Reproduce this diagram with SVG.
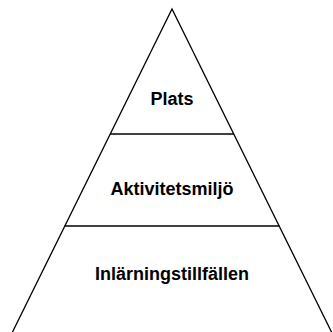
<svg xmlns="http://www.w3.org/2000/svg" width="333" height="332" viewBox="0 0 333 332">
<style>
.edge{fill:none;stroke:#000;stroke-width:1.3}
.lbl{font-family:"Liberation Sans",Arial,sans-serif;font-weight:bold;font-size:18px;fill:#000;text-anchor:middle}
</style>
<rect width="333" height="332" fill="#fff"/>
<g id="connectors">
<polyline class="edge" points="12,333 172,9 332,333"/>
<line class="edge" x1="110" y1="134" x2="234" y2="134"/>
<line class="edge" x1="64.5" y1="226" x2="279.5" y2="226"/>
</g>
<g id="plats"><text class="lbl" x="172" y="105">Plats</text></g>
<g id="aktivitetsmiljo"><text class="lbl" x="172" y="195">Aktivitetsmiljö</text></g>
<g id="inlarningstillfallen"><text class="lbl" x="172" y="280">Inlärningstillfällen</text></g>
</svg>
